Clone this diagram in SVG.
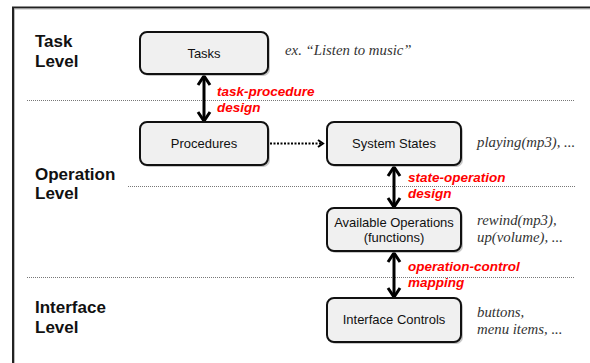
<svg xmlns="http://www.w3.org/2000/svg" width="590" height="363" viewBox="0 0 590 363">
<style>
.lvl{font-family:"Liberation Sans",Arial,sans-serif;font-weight:bold;font-size:17px;fill:#111}
.box{fill:#f0f0f0;stroke:#111;stroke-width:2}
.sh{fill:#999;opacity:0.55}
.bt{font-family:"Liberation Sans",Arial,sans-serif;font-size:13px;fill:#111;text-anchor:middle}
.red{font-family:"Liberation Sans",Arial,sans-serif;font-weight:bold;font-style:italic;font-size:13.5px;fill:#ff0000}
.ex{font-family:"Liberation Serif","Times New Roman",serif;font-style:italic;font-size:14.8px;fill:#333}
.div{stroke:#777;stroke-width:1;stroke-dasharray:1 1;fill:none}
.dbl{stroke:#000;stroke-width:3;fill:none;marker-start:url(#chev);marker-end:url(#chev)}
.dot{stroke:#000;stroke-width:2;stroke-dasharray:2 1.5;fill:none;marker-end:url(#chevs)}
</style>
<defs>
<marker id="chev" markerUnits="userSpaceOnUse" markerWidth="16" markerHeight="16" viewBox="-2 -8 14 16" refX="9" refY="0" orient="auto-start-reverse">
<path d="M0,-6 L9,0 L0,6" fill="none" stroke="#000" stroke-width="3"/>
</marker>
<marker id="chevs" markerUnits="userSpaceOnUse" markerWidth="10" markerHeight="10" viewBox="-2 -5 9 10" refX="5" refY="0" orient="auto">
<path d="M0,-3.5 L5,0 L0,3.5" fill="none" stroke="#000" stroke-width="2"/>
</marker>
</defs>
<rect width="590" height="363" fill="#fff"/>
<path d="M13,363 V7.5 H590" fill="none" stroke="#222" stroke-width="2"/>
<path d="M14.5,363 V9 H590" fill="none" stroke="#aaa" stroke-width="0.8"/>
<g id="dividers">
<line class="div" x1="27" y1="100.5" x2="574" y2="100.5"/>
<line class="div" x1="128" y1="186.5" x2="576" y2="186.5"/>
<line class="div" x1="27" y1="277.5" x2="574" y2="277.5"/>
</g>
<g id="levels">
<text class="lvl" x="35" y="47">Task</text>
<text class="lvl" x="35" y="67">Level</text>
<text class="lvl" x="35" y="180">Operation</text>
<text class="lvl" x="35" y="199">Level</text>
<text class="lvl" x="35" y="313">Interface</text>
<text class="lvl" x="35" y="333">Level</text>
</g>
<g id="connectors">
<line class="dbl" x1="204" y1="76" x2="204" y2="121"/>
<line class="dbl" x1="394" y1="167" x2="394" y2="207"/>
<line class="dbl" x1="394" y1="253" x2="394" y2="297"/>
<line class="dot" x1="270" y1="143.5" x2="323" y2="143.5"/>
<text class="red" x="217" y="96">task-procedure</text>
<text class="red" x="217" y="112">design</text>
<text class="red" x="408" y="182">state-operation</text>
<text class="red" x="408" y="198">design</text>
<text class="red" x="408" y="271">operation-control</text>
<text class="red" x="408" y="287">mapping</text>
</g>
<g id="tasks">
<rect class="sh" x="142" y="34" width="128" height="42" rx="7"/>
<rect class="box" x="140" y="32" width="128" height="42" rx="7"/>
<text class="bt" x="204" y="57.5">Tasks</text>
<text class="ex" x="285" y="55">ex. “Listen to music”</text>
</g>
<g id="procedures">
<rect class="sh" x="142" y="124" width="128" height="43" rx="7"/>
<rect class="box" x="140" y="122" width="128" height="43" rx="7"/>
<text class="bt" x="204" y="148">Procedures</text>
</g>
<g id="system-states">
<rect class="sh" x="329" y="124" width="134" height="43" rx="7"/>
<rect class="box" x="327" y="122" width="134" height="43" rx="7"/>
<text class="bt" x="394" y="148">System States</text>
<text class="ex" x="477" y="147">playing(mp3), ...</text>
</g>
<g id="available-operations">
<rect class="sh" x="329" y="210" width="134" height="43" rx="7"/>
<rect class="box" x="327" y="208" width="134" height="43" rx="7"/>
<text class="bt" x="394" y="226.5">Available Operations</text>
<text class="bt" x="394" y="242">(functions)</text>
<text class="ex" x="477" y="225">rewind(mp3),</text>
<text class="ex" x="477" y="242">up(volume), ...</text>
</g>
<g id="interface-controls">
<rect class="sh" x="329" y="300" width="134" height="44" rx="7"/>
<rect class="box" x="327" y="298" width="134" height="44" rx="7"/>
<text class="bt" x="394" y="324">Interface Controls</text>
<text class="ex" x="477" y="317">buttons,</text>
<text class="ex" x="477" y="334">menu items, ...</text>
</g>
</svg>
